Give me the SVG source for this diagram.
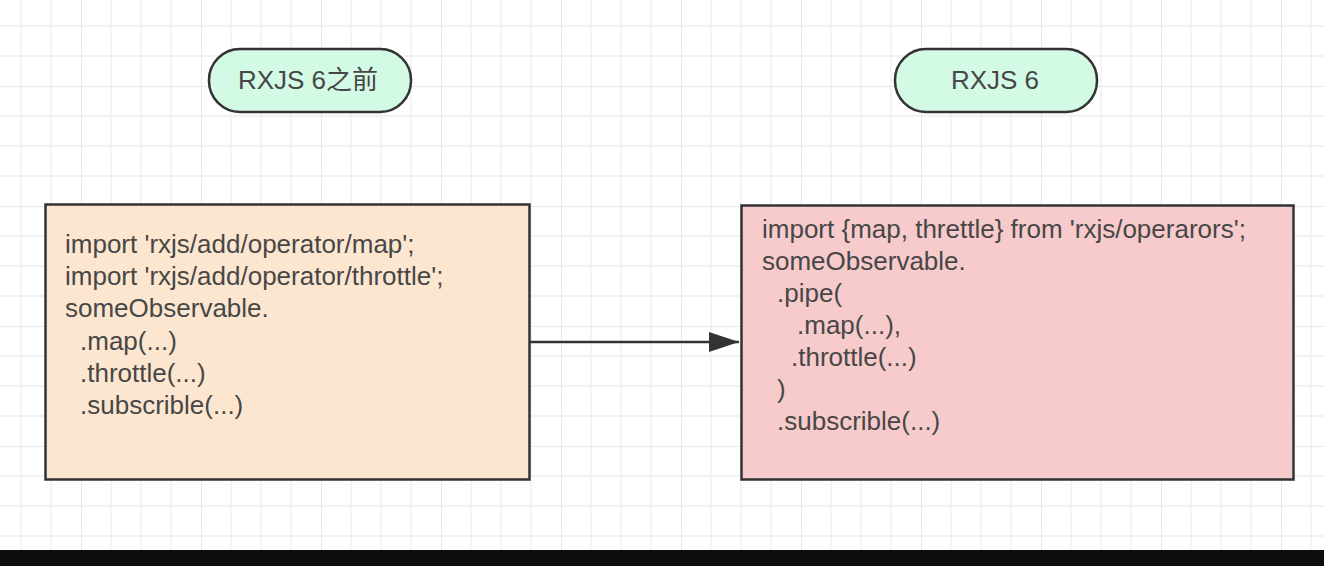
<svg xmlns="http://www.w3.org/2000/svg" width="1324" height="566" viewBox="0 0 1324 566">
<style>
.pill{fill:#d3fae5;stroke:#333;stroke-width:2.5}
.box{stroke:#333;stroke-width:2.5}
.t{font-family:"Liberation Sans","Noto Sans CJK SC",Arial,sans-serif;font-size:26px;fill:#474747}
.c{text-anchor:middle}
.conn{stroke:#333;stroke-width:2.5;fill:none}
</style>
<defs>
<pattern id="grid" x="81" y="86" width="120" height="120" patternUnits="userSpaceOnUse">
<g stroke="#eeeeee" stroke-width="1.3">
<line x1="30" y1="0" x2="30" y2="120"/><line x1="60" y1="0" x2="60" y2="120"/><line x1="90" y1="0" x2="90" y2="120"/>
<line x1="0" y1="30" x2="120" y2="30"/><line x1="0" y1="60" x2="120" y2="60"/><line x1="0" y1="90" x2="120" y2="90"/>
</g>
<g stroke="#e4e4e4" stroke-width="1.6">
<line x1="0" y1="0" x2="0" y2="120"/><line x1="0" y1="0" x2="120" y2="0"/>
</g>
</pattern>
<marker id="arrow" markerWidth="12" markerHeight="8" refX="12" refY="4" orient="auto" markerUnits="strokeWidth">
<path d="M0,0 L12,4 L0,8 Z" fill="#333"/>
</marker>
</defs>
<rect width="1324" height="566" fill="#ffffff"/>
<rect width="1324" height="566" fill="url(#grid)"/>
<g id="connectors">
<line class="conn" x1="530" y1="342" x2="739" y2="342" marker-end="url(#arrow)"/>
</g>
<g id="pill-before">
<rect class="pill" x="209" y="49" width="202" height="63" rx="31" ry="31"/>
<text class="t c" x="308" y="89">RXJS 6之前</text>
</g>
<g id="pill-v6">
<rect class="pill" x="895" y="49" width="202" height="63" rx="31" ry="31"/>
<text class="t c" x="995" y="89">RXJS 6</text>
</g>
<g id="box-before">
<rect class="box" x="45.5" y="204.5" width="484" height="275" fill="#fce6cf"/>
<text class="t" x="65" y="253">import 'rxjs/add/operator/map';</text>
<text class="t" x="65" y="285">import 'rxjs/add/operator/throttle';</text>
<text class="t" x="65" y="317">someObservable.</text>
<text class="t" x="80" y="350">.map(...)</text>
<text class="t" x="80" y="382">.throttle(...)</text>
<text class="t" x="80" y="414">.subscrible(...)</text>
</g>
<g id="box-v6">
<rect class="box" x="741.5" y="205.5" width="552" height="274" fill="#f7cacb"/>
<text class="t" x="762" y="238">import {map, threttle} from 'rxjs/operarors';</text>
<text class="t" x="762" y="270">someObservable.</text>
<text class="t" x="777" y="302">.pipe(</text>
<text class="t" x="797" y="334">.map(...),</text>
<text class="t" x="791" y="366">.throttle(...)</text>
<text class="t" x="777" y="398">)</text>
<text class="t" x="777" y="430">.subscrible(...)</text>
</g>
<rect x="0" y="550" width="1324" height="16" fill="#0e0e0e"/>
</svg>
